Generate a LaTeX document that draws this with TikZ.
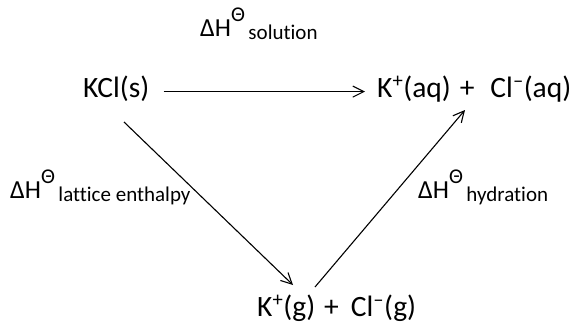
\documentclass[tikz,border=0pt]{standalone}
\usepackage{fontspec}
\setmainfont{Carlito}[Ligatures=NoCommon]
\usetikzlibrary{arrows.meta,positioning}
\newcommand{\enthalpy}[1]{ΔH\raisebox{0.55em}{\fontsize{21}{21}\selectfont Θ}\raisebox{-0.12em}{\fontsize{21}{21}\selectfont\,#1}}
\newcommand{\ion}[1]{\textsuperscript{#1}}

\begin{document}
\begin{tikzpicture}[
  x=1pt, y=1pt,
  species/.style={inner sep=0pt, anchor=base west, font=\fontsize{29.5}{29.5}\selectfont},
  dhlabel/.style={inner sep=0pt, anchor=base west, font=\fontsize{26}{26}\selectfont},
  arr/.style={-{Straight Barb[length=11pt, width=11pt]}, line width=1.1pt}
]
\useasboundingbox (0,0) rectangle (574,-324);
\node[species] (kcl) at (83,-97) {KCl(s)};
\node[species] (aq) at (377,-97) {K\ion{+}(aq)\hspace{9pt}+\hspace{16pt}Cl\ion{–}(aq)};
\node[species] (gas) at (257,-316) {K\ion{+}(g)\hspace{9pt}+\hspace{12pt}Cl\ion{–}(g)};
\node[dhlabel] (solution) at (200,-36) {\enthalpy{solution}};
\node[dhlabel] (lattice) at (10,-198) {\enthalpy{lattice enthalpy}};
\node[dhlabel] (hydration) at (418,-198) {\enthalpy{hydration}};
\draw[arr] ([shift={(14,3)}]kcl.mid east) -- ([shift={(-12,3)}]aq.mid west);
\draw[arr] ([shift={(41,-25)}]kcl.base west) -- ([shift={(36,31)}]gas.base west);
\draw[arr] ([shift={(58,29)}]gas.base west) -- ([shift={(88,-13)}]aq.base west);
\end{tikzpicture}
\end{document}
